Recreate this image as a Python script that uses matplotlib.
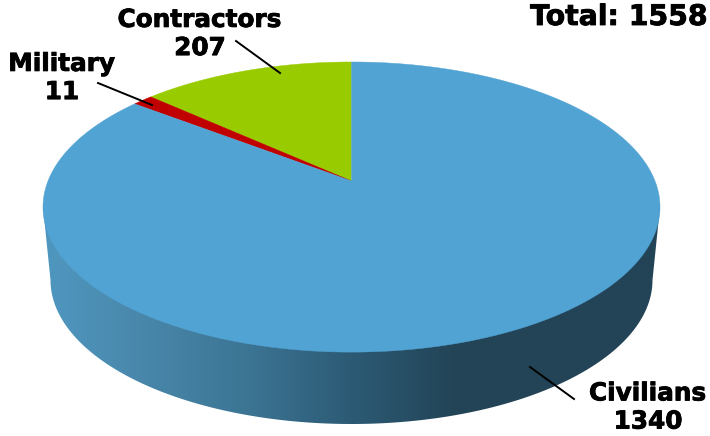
#!/usr/bin/env python3
"""3D-looking pie of casualties: civilians, contractors, military."""

import matplotlib
matplotlib.use('Agg')
import matplotlib.pyplot as plt
import matplotlib.patheffects as pe
from matplotlib.colors import LinearSegmentedColormap
from matplotlib.patches import Polygon
import numpy as np

labels = ['Contractors', 'Military', 'Civilians']
counts = [207, 11, 1340]
# slice sizes as drawn in the picture (the military slice is wider than its label)
slice_sizes = [207, 20, 1331]
colors = ['#99CC00', '#C00000', '#51A3D3']
total_label = 'Total: 1558'

# perspective of the top face, in pixels
CX, CY = 351.5, 181
A, B, K = 303.5, 140.4, 0.1795


def project(theta):
    """Map angle (counterclockwise from 12 o'clock) onto the tilted disc."""
    u = -np.sin(theta)
    v = np.cos(theta)
    return CX + A * u / (1 + K * v), CY - B * v / (1 + K * v)


def wedge_points(start, end):
    t = np.linspace(start, end, max(int((end - start) * 120), 2))
    x, y = project(t)
    return np.vstack([[CX, CY], np.column_stack([x, y])])


fig = plt.figure(figsize=(7.10, 4.36), dpi=100)
ax = fig.add_axes([0, 0, 1, 1])
ax.set_xlim(0, 710)
ax.set_ylim(436, 0)
ax.axis('off')

# side wall with left-to-right shading
t = np.linspace(0, np.pi, 200)
bx = 351.5 - 301 * np.cos(t)
by = 280 + 144 * np.sin(t)
side = Polygon(np.vstack([[[43, 207]], np.column_stack([bx, by]), [[660, 207]]]),
               transform=ax.transData, facecolor='none', edgecolor='none')
ax.add_patch(side)
shade = LinearSegmentedColormap.from_list('side', [
    (0.00, '#4F97C0'), (0.14, '#4A89AD'), (0.33, '#3C7594'),
    (0.50, '#2C5A75'), (0.66, '#234558'), (1.00, '#234357')])
img = ax.imshow(np.linspace(0, 1, 256).reshape(1, -1), cmap=shade, aspect='auto',
                extent=[43, 660, 436, 0], zorder=1)
img.set_clip_path(side)
ax.set_xlim(0, 710)
ax.set_ylim(436, 0)

# top face
angle = 0.0
for size, color in zip(slice_sizes, colors):
    sweep = size / sum(slice_sizes) * 2 * np.pi
    ax.add_patch(Polygon(wedge_points(angle, angle + sweep), facecolor=color,
                         edgecolor=color, linewidth=0.3, zorder=2))
    angle += sweep

# labels and leader lines, thin stroke to get closer to the heavy original font
heavy = [pe.withStroke(linewidth=0.6, foreground='black')]
font = dict(fontsize=17.8, fontweight='bold', family='DejaVu Sans', color='black',
            ha='center', va='center', linespacing=1.22, zorder=4, path_effects=heavy)
ax.text(200, 34, f'{labels[0]}\n{counts[0]}', **font)
ax.text(62, 78, f'{labels[1]}\n{counts[1]}', **font)
ax.text(648, 407.5, f'{labels[2]}\n{counts[2]}', **font)
ax.text(708, 17, total_label, fontsize=20.4, fontweight='bold', family='DejaVu Sans',
        ha='right', va='center', path_effects=heavy)

ax.plot([236, 280], [41, 73], color='black', linewidth=1.4, zorder=3)
ax.plot([98, 152], [83, 105], color='black', linewidth=1.4, zorder=3)
ax.plot([530, 574], [367, 399], color='black', linewidth=1.4, zorder=3)

plt.savefig('out.png', dpi=100)
